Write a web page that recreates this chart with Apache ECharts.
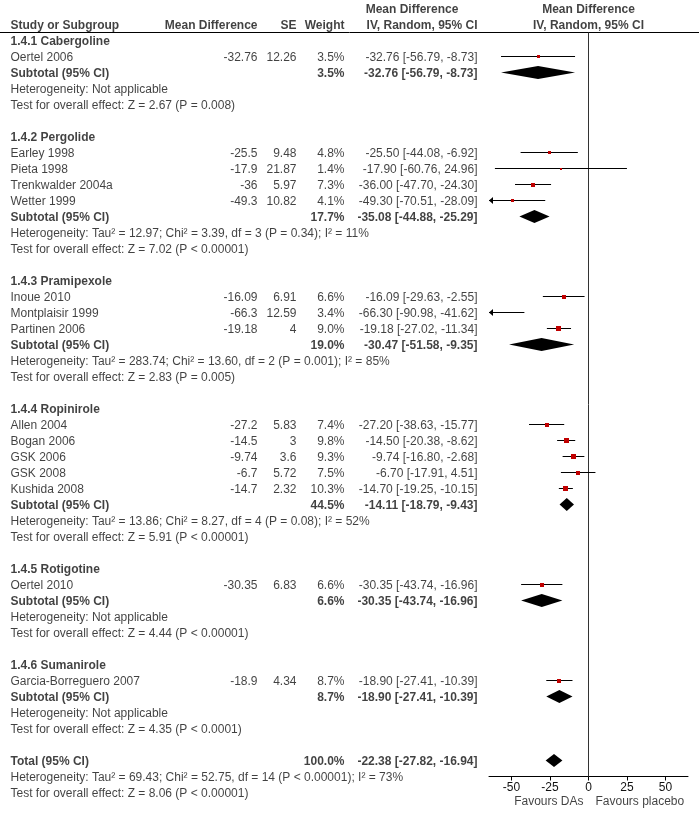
<!DOCTYPE html>
<html><head><meta charset="utf-8">
<script src="https://cdn.jsdelivr.net/npm/echarts@6/dist/echarts.min.js"></script>
<style>html,body{margin:0;padding:0;background:#fff}#c{width:699px;height:816px}</style>
</head><body><div id="c"></div>
<script>
// ---------------- data ----------------
const groupNames = ['1.4.1 Cabergoline','1.4.2 Pergolide','1.4.3 Pramipexole','1.4.4 Ropinirole','1.4.5 Rotigotine','1.4.6 Sumanirole'];
const studyGroup = [0,1,1,1,1,2,2,2,3,3,3,3,3,4,5];
const studyNames = ['Oertel 2006','Earley 1998','Pieta 1998','Trenkwalder 2004a','Wetter 1999','Inoue 2010','Montplaisir 1999','Partinen 2006','Allen 2004','Bogan 2006','GSK 2006','GSK 2008','Kushida 2008','Oertel 2010','Garcia-Borreguero 2007'];
const studyMD = [-32.76,-25.5,-17.9,-36,-49.3,-16.09,-66.3,-19.18,-27.2,-14.5,-9.74,-6.7,-14.7,-30.35,-18.9];
const studySE = [12.26,9.48,21.87,5.97,10.82,6.91,12.59,4,5.83,3,3.6,5.72,2.32,6.83,4.34];
const studyWeight = [3.5,4.8,1.4,7.3,4.1,6.6,3.4,9.0,7.4,9.8,9.3,7.5,10.3,6.6,8.7];
const studyLo = [-56.79,-44.08,-60.76,-47.70,-70.51,-29.63,-90.98,-27.02,-38.63,-20.38,-16.80,-17.91,-19.25,-43.74,-27.41];
const studyHi = [-8.73,-6.92,24.96,-24.30,-28.09,-2.55,-41.62,-11.34,-15.77,-8.62,-2.68,4.51,-10.15,-16.96,-10.39];
const subWeight = [3.5,17.7,19.0,44.5,6.6,8.7];
const subMD = [-32.76,-35.08,-30.47,-14.11,-30.35,-18.90];
const subLo = [-56.79,-44.88,-51.58,-18.79,-43.74,-27.41];
const subHi = [-8.73,-25.29,-9.35,-9.43,-16.96,-10.39];
const hetTexts = [
  'Heterogeneity: Not applicable',
  'Heterogeneity: Tau\u00b2 = 12.97; Chi\u00b2 = 3.39, df = 3 (P = 0.34); I\u00b2 = 11%',
  'Heterogeneity: Tau\u00b2 = 283.74; Chi\u00b2 = 13.60, df = 2 (P = 0.001); I\u00b2 = 85%',
  'Heterogeneity: Tau\u00b2 = 13.86; Chi\u00b2 = 8.27, df = 4 (P = 0.08); I\u00b2 = 52%',
  'Heterogeneity: Not applicable',
  'Heterogeneity: Not applicable'
];
const testTexts = [
  'Test for overall effect: Z = 2.67 (P = 0.008)',
  'Test for overall effect: Z = 7.02 (P < 0.00001)',
  'Test for overall effect: Z = 2.83 (P = 0.005)',
  'Test for overall effect: Z = 5.91 (P < 0.00001)',
  'Test for overall effect: Z = 4.44 (P < 0.00001)',
  'Test for overall effect: Z = 4.35 (P < 0.0001)'
];
const totalWeight = 100.0, totalMD = -22.38, totalLo = -27.82, totalHi = -16.94;
const totalHet = 'Heterogeneity: Tau\u00b2 = 69.43; Chi\u00b2 = 52.75, df = 14 (P < 0.00001); I\u00b2 = 73%';
const totalTest = 'Test for overall effect: Z = 8.06 (P < 0.00001)';
const tickValues = [-50,-25,0,25,50];
const favoursLeft = 'Favours DAs', favoursRight = 'Favours placebo';

// ---------------- layout ----------------
const FONT = '"Liberation Sans", Arial, sans-serif';
const TXT = '#111';
const X_MIN = -64.6, X_MAX = 64.6;
const TOP = 8.5, ROW = 16;
const HEADER_ROW = 1.47;
const COL = {study: 10, md: 258, se: 297, w: 345, ci: 478};

const fmtCI = (m, l, h) => m.toFixed(2) + ' [' + l.toFixed(2) + ', ' + h.toFixed(2) + ']';
const fmtW = w => w.toFixed(1) + '%';

const texts = [];
function T(x, row, t, align, bold){ texts.push({x, row, t, align, bold}); }

// header
T(412, 0, 'Mean Difference', 'center', true);
T(588.5, 0, 'Mean Difference', 'center', true);
T(COL.study, 1, 'Study or Subgroup', 'left', true);
T(COL.md, 1, 'Mean Difference', 'right', true);
T(COL.se, 1, 'SE', 'right', true);
T(COL.w, 1, 'Weight', 'right', true);
T(COL.ci, 1, 'IV, Random, 95% CI', 'right', true);
T(588.5, 1, 'IV, Random, 95% CI', 'center', true);

const studyRow = [], subRow = [];
let r = 2;
groupNames.forEach((gn, g) => {
  T(COL.study, r, gn, 'left', true); r++;
  studyNames.forEach((n, i) => {
    if (studyGroup[i] !== g) return;
    studyRow[i] = r;
    T(COL.study, r, n, 'left', false);
    T(COL.md, r, String(studyMD[i]), 'right', false);
    T(COL.se, r, String(studySE[i]), 'right', false);
    T(COL.w, r, fmtW(studyWeight[i]), 'right', false);
    T(COL.ci, r, fmtCI(studyMD[i], studyLo[i], studyHi[i]), 'right', false);
    r++;
  });
  subRow[g] = r;
  T(COL.study, r, 'Subtotal (95% CI)', 'left', true);
  T(COL.w, r, fmtW(subWeight[g]), 'right', true);
  T(COL.ci, r, fmtCI(subMD[g], subLo[g], subHi[g]), 'right', true);
  r++;
  T(COL.study, r, hetTexts[g], 'left', false); r++;
  T(COL.study, r, testTexts[g], 'left', false); r++;
  r++;
});
const totalRow = r;
T(COL.study, r, 'Total (95% CI)', 'left', true);
T(COL.w, r, fmtW(totalWeight), 'right', true);
T(COL.ci, r, fmtCI(totalMD, totalLo, totalHi), 'right', true);
T(COL.study, r + 1, totalHet, 'left', false);
T(COL.study, r + 2, totalTest, 'left', false);
const AXIS_ROW = r + 1;          // x axis sits at this row
T(584, AXIS_ROW + 1.53, favoursLeft, 'right', false);
T(595, AXIS_ROW + 1.53, favoursRight, 'left', false);

const textData = texts.map(o => ({
  value: [o.x, o.row], t: o.t,
  label: {
    position: o.align === 'left' ? 'right' : (o.align === 'right' ? 'left' : 'inside'),
    fontWeight: o.bold ? 'bold' : 'normal'
  }
}));

const crisp = v => Math.round(v - 0.5) + 0.5;

const studyData = studyNames.map((_, i) => [studyRow[i], studyLo[i], studyHi[i], studyMD[i], studyWeight[i]]);
const diamondData = subMD.map((m, g) => [subRow[g], subLo[g], subHi[g], m]);
diamondData.push([totalRow, totalLo, totalHi, totalMD]);

const chart = echarts.init(document.getElementById('c'), null, {renderer: 'canvas'});
chart.setOption({
  animation: false,
  backgroundColor: '#fff',
  grid: [
    {left: 489, right: 11, top: TOP, height: ROW * AXIS_ROW},
    {left: 0, right: 0, top: TOP, height: ROW * (AXIS_ROW + 2)}
  ],
  xAxis: [
    {gridIndex: 0, type: 'value', min: X_MIN, max: X_MAX, position: 'bottom',
     axisLine: {show: true, onZero: false, lineStyle: {color: '#000', width: 1}},
     axisTick: {show: true, customValues: tickValues, length: 4, lineStyle: {color: '#000'}},
     axisLabel: {show: true, customValues: tickValues, fontSize: 12, color: TXT, fontFamily: FONT, margin: 5},
     splitLine: {show: false}},
    {gridIndex: 1, type: 'value', min: 0, max: 699, show: false}
  ],
  yAxis: [
    {gridIndex: 0, type: 'value', min: 0, max: AXIS_ROW, inverse: true, show: false},
    {gridIndex: 1, type: 'value', min: 0, max: AXIS_ROW + 2, inverse: true, show: false}
  ],
  series: [
    { // header rule
      type: 'custom', xAxisIndex: 1, yAxisIndex: 1, silent: true, clip: false,
      data: [[0, 699, HEADER_ROW]],
      renderItem: (p, api) => {
        const a = api.coord([api.value(0), api.value(2)]);
        const b = api.coord([api.value(1), api.value(2)]);
        const y = crisp(a[1]);
        return {type: 'line', shape: {x1: a[0], y1: y, x2: b[0], y2: y}, style: {stroke: '#000', lineWidth: 1}};
      }
    },
    { // line of no effect
      type: 'custom', xAxisIndex: 0, yAxisIndex: 0, silent: true, clip: false,
      data: [[0, HEADER_ROW, AXIS_ROW]],
      renderItem: (p, api) => {
        const a = api.coord([api.value(0), api.value(1)]);
        const b = api.coord([api.value(0), api.value(2)]);
        const x = crisp(a[0]);
        return {type: 'line', shape: {x1: x, y1: crisp(a[1]), x2: x, y2: b[1]}, style: {stroke: '#333', lineWidth: 1}};
      }
    },
    { // study CIs + squares
      type: 'custom', xAxisIndex: 0, yAxisIndex: 0, silent: true, clip: false,
      encode: {x: [1, 2, 3], y: 0},
      data: studyData,
      renderItem: (p, api) => {
        const row = api.value(0), lo = api.value(1), hi = api.value(2), md = api.value(3), w = api.value(4);
        const pl = api.coord([Math.max(lo, X_MIN), row]);
        const ph = api.coord([Math.min(hi, X_MAX), row]);
        const y = crisp(pl[1]);
        const ch = [{type: 'line', shape: {x1: pl[0], y1: y, x2: ph[0], y2: y}, style: {stroke: '#000', lineWidth: 1}}];
        if (lo < X_MIN) {
          const x = pl[0];
          ch.push({type: 'polygon', shape: {points: [[x, y], [x + 4, y - 3.5], [x + 4, y + 3.5]]}, style: {fill: '#000'}});
        }
        if (hi > X_MAX) {
          const x = ph[0];
          ch.push({type: 'polygon', shape: {points: [[x, y], [x - 4, y - 3.5], [x - 4, y + 3.5]]}, style: {fill: '#000'}});
        }
        if (md >= X_MIN && md <= X_MAX) {
          const c = api.coord([md, row]);
          const s = Math.max(2, Math.round(1.5 * Math.sqrt(w)));
          ch.push({type: 'rect', shape: {x: Math.round(c[0] - s / 2), y: Math.round(y - s / 2), width: s, height: s}, style: {fill: '#c00000'}});
        }
        return {type: 'group', children: ch};
      }
    },
    { // pooled diamonds
      type: 'custom', xAxisIndex: 0, yAxisIndex: 0, silent: true, clip: false,
      encode: {x: [1, 2, 3], y: 0},
      data: diamondData,
      renderItem: (p, api) => {
        const row = api.value(0);
        const l = api.coord([api.value(1), row]);
        const h = api.coord([api.value(2), row]);
        const m = api.coord([api.value(3), row]);
        const y = l[1], hh = 6.5;
        return {type: 'polygon', shape: {points: [[l[0], y], [m[0], y - hh], [h[0], y], [m[0], y + hh]]}, style: {fill: '#000'}};
      }
    },
    { // all table text
      type: 'scatter', xAxisIndex: 1, yAxisIndex: 1, silent: true, clip: false,
      symbolSize: 1, itemStyle: {color: 'rgba(0,0,0,0)'},
      data: textData,
      label: {show: true, distance: 0, fontSize: 12, fontFamily: FONT, color: TXT, offset: [0, 1],
              formatter: p => p.data.t}
    }
  ]
});
</script></body></html>
